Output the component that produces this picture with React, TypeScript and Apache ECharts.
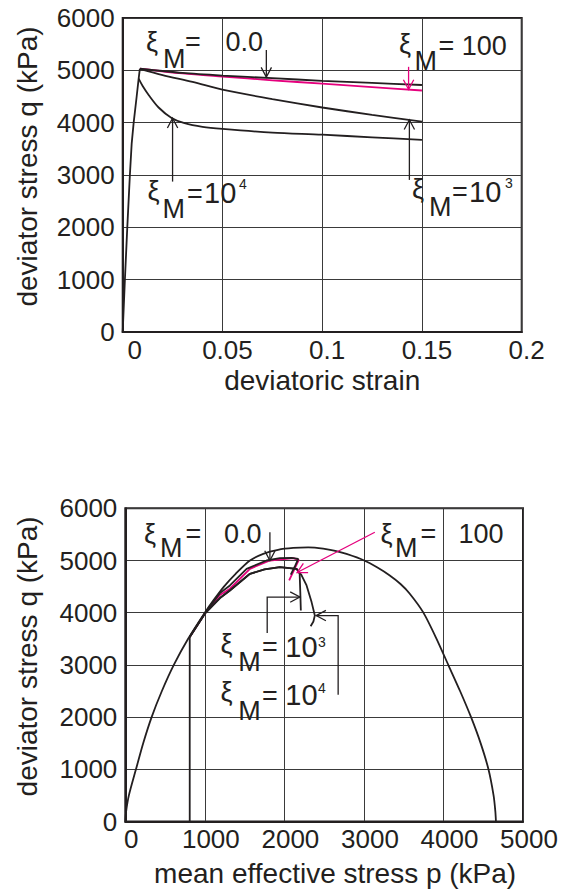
import React, { useEffect, useRef } from "react";
import * as echarts from "echarts";

const INK = "#231f20";
const MAGENTA = "#e5007d";
const GRID_LINE = "#3a3a3a";
const FONT = "'Liberation Sans', Arial, Helvetica, sans-serif";

// ---------- upper panel: deviator stress vs deviatoric strain ----------
const strainTickLabels = ["0", "0.05", "0.1", "0.15", "0.2"];
const stressTickLabels = ["0", "1000", "2000", "3000", "4000", "5000", "6000"];

// loading branch shared by every case
const elasticStrain = [0, 0.0011, 0.0023, 0.0036, 0.0045, 0.0055, 0.007, 0.008, 0.0086];
const elasticQ = [0, 1000, 2000, 3000, 3600, 4000, 4500, 4840, 5030];

// post-peak branches
const xi0Strain = [0.0086, 0.03, 0.05, 0.075, 0.1, 0.125, 0.15];
const xi0Q = [5030, 4950, 4900, 4850, 4800, 4760, 4720];

const xi100Strain = [0.0086, 0.03, 0.05, 0.075, 0.1, 0.125, 0.15];
const xi100Q = [5030, 4940, 4880, 4810, 4745, 4680, 4615];

const xi1e3Strain = [0.0086, 0.02, 0.035, 0.05, 0.075, 0.1, 0.125, 0.15];
const xi1e3Q = [5030, 4910, 4780, 4630, 4450, 4290, 4150, 4020];

const xi1e4Strain = [0.008, 0.01, 0.013, 0.018, 0.0245, 0.031, 0.04, 0.05, 0.075, 0.1, 0.125, 0.15];
const xi1e4Q = [4840, 4700, 4530, 4290, 4090, 3990, 3920, 3880, 3810, 3770, 3720, 3670];

// ---------- lower panel: stress paths in p-q space ----------
const pTickLabels = ["0", "1000", "2000", "3000", "4000", "5000"];

// yield surface
const surfaceP = [
  0, 10, 45, 134, 225, 331, 460, 610, 790, 1000, 1115, 1240, 1390, 1567, 1734, 1920, 2111, 2300,
  2487, 2640, 2781, 3003, 3170, 3325, 3460, 3574, 3746, 3910, 4063, 4210, 4347, 4467, 4565, 4630, 4652, 4660,
];
const surfaceQ = [
  0, 190, 500, 1000, 1500, 2000, 2500, 3000, 3500, 4000, 4250, 4500, 4750, 5000, 5128, 5205, 5240, 5250,
  5228, 5185, 5125, 5000, 4865, 4713, 4550, 4369, 4006, 3509, 2992, 2495, 1998, 1501, 1004, 500, 200, 0,
];

// initial undrained loading (constant p)
const startP = [810, 810];
const startQ = [0, 3535];

const pathXi0P = [810, 1000, 1190, 1315, 1525, 1776, 1943, 2090, 2174, 2130, 2080];
const pathXi0Q = [3535, 3990, 4375, 4522, 4841, 5000, 5044, 5050, 5030, 4880, 4730];

const pathXi100P = [810, 1000, 1190, 1315, 1567, 1818, 2111, 2182, 2060];
const pathXi100Q = [3535, 3985, 4340, 4459, 4841, 5000, 5044, 5010, 4618];

const pathXi1e3P = [810, 1000, 1190, 1315, 1567, 1750, 1943, 2153, 2192, 2200, 2207];
const pathXi1e3Q = [3535, 3980, 4280, 4426, 4745, 4830, 4872, 4841, 4745, 4400, 4044];

const pathXi1e4P = [810, 1000, 1190, 1315, 1567, 1750, 1943, 2153, 2215, 2279, 2342, 2383, 2365, 2330];
const pathXi1e4Q = [3535, 3980, 4280, 4426, 4745, 4830, 4872, 4841, 4720, 4522, 4203, 3948, 3830, 3740];

// ---------- annotation arrows (data coordinates; last point is the tip) ----------
const upperArrows = [
  { pts: [[0.072, 5390], [0.072, 4870]], color: INK },
  { pts: [[0.1433, 5067], [0.1433, 4635]], color: MAGENTA },
  { pts: [[0.025, 2874], [0.025, 4085]], color: INK },
  { pts: [[0.1437, 2906], [0.1437, 4055]], color: INK },
];
const lowerArrows = [
  { pts: [[1818, 5540], [1818, 5000]], color: INK },
  { pts: [[3137, 5541], [2160, 4770]], color: MAGENTA },
  { pts: [[1784, 3610], [1784, 4300], [2195, 4300]], color: INK },
  { pts: [[2676, 2430], [2676, 3945], [2400, 3945]], color: INK },
];

// ---------- annotation text layout (left x, baseline y in px, font size) ----------
const MAIN = 27;
const BIG = 29;
const SUP = 14;
const annotationTexts: [string, number, number, number][] = [
  ["ξ", 146, 51.7, MAIN], ["M", 163, 68.3, MAIN], ["=", 185, 51.7, MAIN], ["0.0", 225.5, 51.7, MAIN],
  ["ξ", 399, 53, MAIN], ["M", 414.5, 70, MAIN], ["= 100", 438.5, 55, MAIN],
  ["ξ", 147.5, 200, MAIN], ["M", 162.5, 218.3, MAIN], ["=", 187, 203.3, MAIN], ["10", 204, 203.3, BIG], ["4", 239, 189, SUP],
  ["ξ", 412, 198.4, MAIN], ["M", 429, 216.7, MAIN], ["=", 452, 201.7, MAIN], ["10", 469, 201.7, BIG], ["3", 505, 188, SUP],
  ["ξ", 144, 543.3, MAIN], ["M", 160, 557.3, MAIN], ["=", 185.5, 543.3, MAIN], ["0.0", 224, 543.3, MAIN],
  ["ξ", 380.5, 543.3, MAIN], ["M", 395, 557.3, MAIN], ["=", 420.5, 543.3, MAIN], ["100", 458.5, 543.3, MAIN],
  ["ξ", 220.5, 653.4, MAIN], ["M", 238.3, 671.7, MAIN], ["=", 262, 656.7, MAIN], ["10", 285.3, 656.7, BIG], ["3", 318, 646.7, SUP],
  ["ξ", 220.5, 701.5, MAIN], ["M", 238.3, 720, MAIN], ["=", 262, 705, MAIN], ["10", 285.3, 705, BIG], ["4", 318, 693, SUP],
];

const zip = (a: number[], b: number[]) => a.map((v, i) => [v, b[i]]);

function lineSeries(grid: number, data: number[][], color: string, smooth: number | boolean = false) {
  return {
    type: "line",
    xAxisIndex: grid,
    yAxisIndex: grid,
    data,
    smooth,
    symbol: "none",
    showSymbol: false,
    silent: true,
    lineStyle: { color, width: 1.8 },
    z: color === MAGENTA ? 2 : 3,
  };
}

function axisCommon() {
  return {
    type: "value",
    nameLocation: "middle",
    nameTextStyle: { fontFamily: FONT, fontSize: 28, color: INK },
    axisLine: { show: true, onZero: false, lineStyle: { color: INK, width: 2 } },
    axisTick: { show: false },
    splitLine: { show: true, lineStyle: { color: GRID_LINE, width: 1 } },
  };
}

function yAxisFor(gridIndex: number, nameGap: number) {
  return {
    ...axisCommon(),
    gridIndex,
    min: 0,
    max: 6000,
    interval: 1000,
    name: "deviator stress q (kPa)",
    nameGap,
    nameRotate: 90,
    nameTextStyle: { fontFamily: FONT, fontSize: 28, color: INK, padding: [0, 0, 0, 17] },
    axisLabel: {
      fontFamily: FONT,
      fontSize: 26,
      color: INK,
      margin: 8,
      formatter: (v: number) => stressTickLabels[Math.round(v / 1000)],
    },
  };
}

function buildOption() {
  return {
    animation: false,
    backgroundColor: "#ffffff",
    grid: [
      { left: 122.7, top: 18, width: 399, height: 314, show: true, borderColor: INK, borderWidth: 2 },
      { left: 125.3, top: 508.3, width: 397.7, height: 313.2, show: true, borderColor: INK, borderWidth: 2 },
    ],
    xAxis: [
      {
        ...axisCommon(),
        gridIndex: 0,
        min: 0,
        max: 0.2,
        interval: 0.05,
        name: "deviatoric strain",
        nameGap: 34,
        axisLabel: {
          fontFamily: FONT,
          fontSize: 26,
          color: INK,
          margin: 5,
          padding: [0, 0, 0, 10],
          formatter: (v: number) => {
            const i = Math.round(v / 0.05);
            return i === 0 ? "{z|" + strainTickLabels[0] + "}" : strainTickLabels[i];
          },
          rich: { z: { fontFamily: FONT, fontSize: 26, color: INK, padding: [0, 0, 0, 14] } },
        },
      },
      {
        ...axisCommon(),
        gridIndex: 1,
        min: 0,
        max: 5000,
        interval: 1000,
        name: "mean effective stress p (kPa)",
        nameGap: 38,
        nameTextStyle: { fontFamily: FONT, fontSize: 28, color: INK, padding: [0, 0, 0, 22] },
        axisLabel: {
          fontFamily: FONT,
          fontSize: 26,
          color: INK,
          margin: 4,
          padding: [0, 0, 0, 12],
          formatter: (v: number) => pTickLabels[Math.round(v / 1000)],
        },
      },
    ],
    yAxis: [yAxisFor(0, 81), yAxisFor(1, 84)],
    series: [
      // upper panel
      lineSeries(0, zip(xi100Strain, xi100Q), MAGENTA, 0.3),
      lineSeries(0, zip(elasticStrain, elasticQ), INK),
      lineSeries(0, zip(xi0Strain, xi0Q), INK, 0.3),
      lineSeries(0, zip(xi1e3Strain, xi1e3Q), INK, 0.3),
      lineSeries(0, zip(xi1e4Strain, xi1e4Q), INK, 0.3),
      // lower panel
      lineSeries(1, zip(surfaceP, surfaceQ), INK, 0.25),
      lineSeries(1, zip(pathXi100P, pathXi100Q), MAGENTA),
      lineSeries(1, zip(startP, startQ), INK),
      lineSeries(1, zip(pathXi0P, pathXi0Q), INK),
      lineSeries(1, zip(pathXi1e3P, pathXi1e3Q), INK),
      lineSeries(1, zip(pathXi1e4P, pathXi1e4Q), INK),
    ],
  };
}

function arrowElements(chart: any, gridIndex: number, arrows: { pts: number[][]; color: string }[]) {
  const out: any[] = [];
  const L = 11;
  const theta = (28 * Math.PI) / 180;
  for (const a of arrows) {
    const px = a.pts.map((p) => chart.convertToPixel({ gridIndex }, p) as number[]);
    out.push({
      type: "polyline",
      shape: { points: px },
      style: { stroke: a.color, lineWidth: 1.3, fill: null },
      z: 50,
      silent: true,
    });
    const tip = px[px.length - 1];
    const prev = px[px.length - 2];
    const dx = tip[0] - prev[0];
    const dy = tip[1] - prev[1];
    const len = Math.hypot(dx, dy) || 1;
    const ux = dx / len;
    const uy = dy / len;
    const arm = (ang: number) => {
      const c = Math.cos(ang);
      const s = Math.sin(ang);
      const rx = ux * c - uy * s;
      const ry = ux * s + uy * c;
      return [tip[0] - L * rx, tip[1] - L * ry];
    };
    out.push({
      type: "polyline",
      shape: { points: [arm(theta), tip, arm(-theta)] },
      style: { stroke: a.color, lineWidth: 1.3, fill: null },
      z: 50,
      silent: true,
    });
  }
  return out;
}

function textElements() {
  return annotationTexts.map(([s, x, base, size]) => ({
    type: "text",
    x,
    y: base - 0.3465 * size,
    z: 60,
    silent: true,
    style: {
      text: s,
      fontFamily: FONT,
      fontSize: size,
      fill: INK,
      align: "left",
      verticalAlign: "middle",
      textAlign: "left",
      textVerticalAlign: "middle",
    },
  }));
}

export default function App() {
  const ref = useRef<HTMLDivElement>(null);
  useEffect(() => {
    if (!ref.current) return;
    const chart = echarts.init(ref.current, null, { renderer: "svg" });
    chart.setOption(buildOption() as any);
    chart.setOption({
      graphic: [
        ...arrowElements(chart, 0, upperArrows),
        ...arrowElements(chart, 1, lowerArrows),
        ...textElements(),
      ],
    } as any);
    return () => chart.dispose();
  }, []);
  return (
    <div
      ref={ref}
      style={{ position: "absolute", left: 0, top: 0, width: 564, height: 896, background: "#fff" }}
    />
  );
}
